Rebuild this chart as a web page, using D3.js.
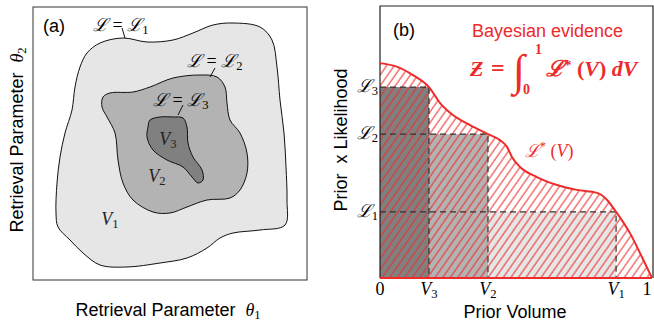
<!DOCTYPE html>
<html>
<head>
<meta charset="utf-8">
<script src="https://cdn.jsdelivr.net/npm/d3@7"></script>
<style>
  body { margin: 0; background: #fff; }
  svg { display: block; }
  .sans { font-family: "Liberation Sans", Arial, sans-serif; }
  .math { font-family: "Liberation Serif", "DejaVu Serif", serif; font-style: italic; }
  .rm { font-family: "Liberation Serif", "DejaVu Serif", serif; font-style: normal; }
</style>
</head>
<body>
<svg id="fig" width="654" height="322"></svg>
<script>
// ---- panel (a): iso-likelihood contours in (theta1, theta2) ----
const contourL1 = [[67,237],[54,227],[47,213],[42,193],[39,170],[32,147],[27,123],[24,97],[23,67],[25,53],
  [37,40],[50,27],[67,15],[94,13],[127,17],[154,22],[174,32],[187,42],[200,47],[227,50],[252,55],
  [254,80],[253,113],[251,147],[247,180],[244,213],[239,240],[227,253],[200,257],[180,255],[160,247],
  [140,240],[114,238],[90,242]];
const contourL2 = [[70,183],[77,187],[100,188],[117,193],[140,202],[167,205],[184,203],[192,193],[194,177],
  [197,160],[207,147],[214,127],[214,107],[207,90],[197,82],[174,80],[154,73],[137,67],[120,68],
  [100,80],[90,97],[85,120],[82,147],[74,163],[69,173]];
const contourL3 = [[117,160],[127,163],[140,163],[150,162],[154,153],[155,137],[160,123],[169,110],
  [170,100],[165,97],[159,103],[150,113],[134,120],[120,130],[114,143],[115,153]];
const contourFill = ["#e6e6e6", "#b3b3b3", "#808080"];
const volumeNames = ["1", "2", "3"];
const volumeLabelPos = [[77,55],[124,98],[135,135]];
const contourLabelPos = [[60,249],[154,213],[120,174]];
const leaders = [[[89,252],[92,242]], [[182,212],[177,203]], [[150,175],[145,165]]];

// ---- panel (b): L*(V) against prior volume ----
const volume = [0, 0.061, 0.121, 0.180, 0.221, 0.268, 0.331, 0.397, 0.441, 0.467, 0.485, 0.515,
  0.577, 0.651, 0.724, 0.798, 0.835, 0.868, 0.919, 0.963, 1.0];
const likelihood = [0.790, 0.777, 0.746, 0.702, 0.643, 0.599, 0.562, 0.529, 0.507, 0.482, 0.445, 0.408,
  0.371, 0.342, 0.324, 0.313, 0.287, 0.243, 0.165, 0.077, 0];
const levelNames = ["1", "2", "3"];
const levelVolume = [0.868, 0.397, 0.180];
const levelLike = [0.243, 0.529, 0.702];
const levelFill = ["#e6e6e6", "#b3b3b3", "#808080"];

const RED = "#ee2a2a";
const svg = d3.select("#fig");

// small helper: italic symbol + upright subscript
function symSub(sel, sym, sub, size) {
  sel.append("tspan").attr("class", "math").text(sym);
  sel.append("tspan").attr("class", "rm")
    .attr("font-size", size * 0.7).attr("dy", size * 0.18).text(sub);
}

/* ---------------- panel (a) ---------------- */
const ax = d3.scaleLinear().domain([0, 274]).range([33, 307]);
const ay = d3.scaleLinear().domain([0, 273]).range([280, 7]);
const blob = d3.line().x(d => ax(d[0])).y(d => ay(d[1])).curve(d3.curveCatmullRomClosed.alpha(0.5));

const ga = svg.append("g");
[contourL1, contourL2, contourL3].forEach((c, i) => {
  ga.append("path").attr("d", blob(c))
    .attr("fill", contourFill[i]).attr("stroke", "#111").attr("stroke-width", 1);
});
ga.append("rect").attr("x", 33).attr("y", 7).attr("width", 274).attr("height", 273)
  .attr("fill", "none").attr("stroke", "#333").attr("stroke-width", 1);

ga.append("text").attr("class", "sans").attr("x", 43).attr("y", 32)
  .attr("font-size", 18).text("(a)");

// contour labels and leader lines
contourLabelPos.forEach((p, i) => {
  ga.append("path").attr("d", d3.line().x(d => ax(d[0])).y(d => ay(d[1]))(leaders[i]))
    .attr("stroke", "#111").attr("stroke-width", 1);
  const t = ga.append("text").attr("x", ax(p[0])).attr("y", ay(p[1])).attr("font-size", 18);
  t.append("tspan").attr("class", "math").text("\u2112");
  t.append("tspan").attr("class", "rm").text(" = ");
  symSub(t, "\u2112", levelNames[i], 18);
});
volumeNames.forEach((n, i) => {
  const t = ga.append("text").attr("x", ax(volumeLabelPos[i][0])).attr("y", ay(volumeLabelPos[i][1]))
    .attr("font-size", 18).attr("text-anchor", "middle").attr("fill", "#222");
  symSub(t, "V", n, 18);
});

// axis titles
const ta = svg.append("text").attr("x", 168).attr("y", 316).attr("font-size", 18).attr("text-anchor", "middle");
ta.append("tspan").attr("class", "sans").text("Retrieval Parameter\u00a0\u00a0");
symSub(ta, "\u03b8", "1", 18);
const tb = svg.append("text").attr("transform", "translate(23,140) rotate(-90)")
  .attr("font-size", 18).attr("text-anchor", "middle");
tb.append("tspan").attr("class", "sans").text("Retrieval Parameter\u00a0\u00a0");
symSub(tb, "\u03b8", "2", 18);

/* ---------------- panel (b) ---------------- */
const bx = d3.scaleLinear().domain([0, 1]).range([380, 652]);
const by = d3.scaleLinear().domain([0, 1]).range([278, 6]);
const pts = volume.map((v, i) => ({ v: v, l: likelihood[i] }));

const defs = svg.append("defs");
const hatch = defs.append("pattern").attr("id", "hatch").attr("patternUnits", "userSpaceOnUse")
  .attr("width", 6.2).attr("height", 10).attr("patternTransform", "rotate(35)");
hatch.append("line").attr("x1", 1).attr("y1", 0).attr("x2", 1).attr("y2", 10)
  .attr("stroke", RED).attr("stroke-width", 1);

const gb = svg.append("g");

// shaded rectangles L_i x (V_{i} - V_{i+1})
levelNames.forEach((n, i) => {
  const left = i < levelNames.length - 1 ? levelVolume[i + 1] : 0;
  gb.append("rect")
    .attr("x", bx(left)).attr("y", by(levelLike[i]))
    .attr("width", bx(levelVolume[i]) - bx(left)).attr("height", by(0) - by(levelLike[i]))
    .attr("fill", levelFill[i]);
});

const area = d3.area().x(d => bx(d.v)).y0(by(0)).y1(d => by(d.l)).curve(d3.curveMonotoneX);
gb.append("path").datum(pts).attr("d", area).attr("fill", "url(#hatch)");

// dashed guides
levelNames.forEach((n, i) => {
  gb.append("path")
    .attr("d", `M${bx(0)},${by(levelLike[i])}H${bx(levelVolume[i])}V${by(0)}`)
    .attr("fill", "none").attr("stroke", "#333").attr("stroke-width", 1.2)
    .attr("stroke-dasharray", "6,4");
});

// frame
gb.append("path").attr("d", "M380,278V6H653V278").attr("fill", "none")
  .attr("stroke", "#222").attr("stroke-width", 1.2);

const line = d3.line().x(d => bx(d.v)).y(d => by(d.l)).curve(d3.curveMonotoneX);
gb.append("path").datum(pts).attr("d", line).attr("fill", "none")
  .attr("stroke", RED).attr("stroke-width", 2);
gb.append("line").attr("x1", bx(0)).attr("x2", bx(1)).attr("y1", by(0)).attr("y2", by(0))
  .attr("stroke", RED).attr("stroke-width", 2);

// x tick labels
const xTicks = [0].concat(levelVolume.slice().reverse(), [1]);
const xTickNames = ["0"].concat(levelNames.slice().reverse().map(n => "V" + n), ["1"]);
xTicks.forEach((v, i) => {
  const t = gb.append("text").attr("x", Math.min(bx(v), 647)).attr("y", 295).attr("font-size", 18)
    .attr("text-anchor", "middle");
  if (xTickNames[i].startsWith("V")) symSub(t, "V", xTickNames[i].slice(1), 18);
  else t.attr("class", "rm").text(xTickNames[i]);
});
// y tick labels
levelLike.forEach((l, i) => {
  const t = gb.append("text").attr("x", 378).attr("y", by(l) + 5).attr("font-size", 18)
    .attr("text-anchor", "end");
  symSub(t, "\u2112", levelNames[i], 18);
});

gb.append("text").attr("class", "sans").attr("x", 515).attr("y", 318).attr("font-size", 18)
  .attr("text-anchor", "middle").text("Prior Volume");
gb.append("text").attr("class", "sans").attr("transform", "translate(347,140) rotate(-90)")
  .attr("font-size", 18).attr("text-anchor", "middle").text("Prior\u00a0\u00a0x Likelihood");

gb.append("text").attr("class", "sans").attr("x", 393).attr("y", 36).attr("font-size", 18).text("(b)");
gb.append("text").attr("class", "sans").attr("x", 472).attr("y", 37).attr("font-size", 18)
  .attr("fill", RED).text("Bayesian evidence");

// evidence formula
const fz = gb.append("g").attr("fill", RED).attr("font-weight", "bold");
fz.append("text").attr("class", "math").attr("x", 470).attr("y", 76).attr("font-size", 22).text("\u01b5");
fz.append("text").attr("class", "rm").attr("x", 491).attr("y", 76).attr("font-size", 24).text("=");
fz.append("text").attr("class", "rm").attr("x", 513).attr("y", 85).attr("font-size", 44).text("\u222b");
fz.append("text").attr("class", "rm").attr("x", 535).attr("y", 54).attr("font-size", 14).text("1");
fz.append("text").attr("class", "rm").attr("x", 523).attr("y", 94).attr("font-size", 14).text("0");
const fr = fz.append("text").attr("x", 546).attr("y", 76).attr("font-size", 22);
fr.append("tspan").attr("class", "math").text("\u2112");
fr.append("tspan").attr("class", "rm").attr("font-size", 15).attr("dy", -6).text("*");
fr.append("tspan").attr("class", "rm").attr("dy", 6).text(" (");
fr.append("tspan").attr("class", "math").text("V");
fr.append("tspan").attr("class", "rm").text(") ");
fr.append("tspan").attr("class", "math").text("dV");

// curve label
const cl = gb.append("text").attr("x", 525).attr("y", 157).attr("font-size", 18).attr("fill", RED);
cl.append("tspan").attr("class", "math").text("\u2112");
cl.append("tspan").attr("class", "rm").attr("font-size", 12).attr("dy", -7).text("*");
cl.append("tspan").attr("class", "rm").attr("dy", 7).text(" (");
cl.append("tspan").attr("class", "math").text("V");
cl.append("tspan").attr("class", "rm").text(")");
</script>
</body>
</html>
